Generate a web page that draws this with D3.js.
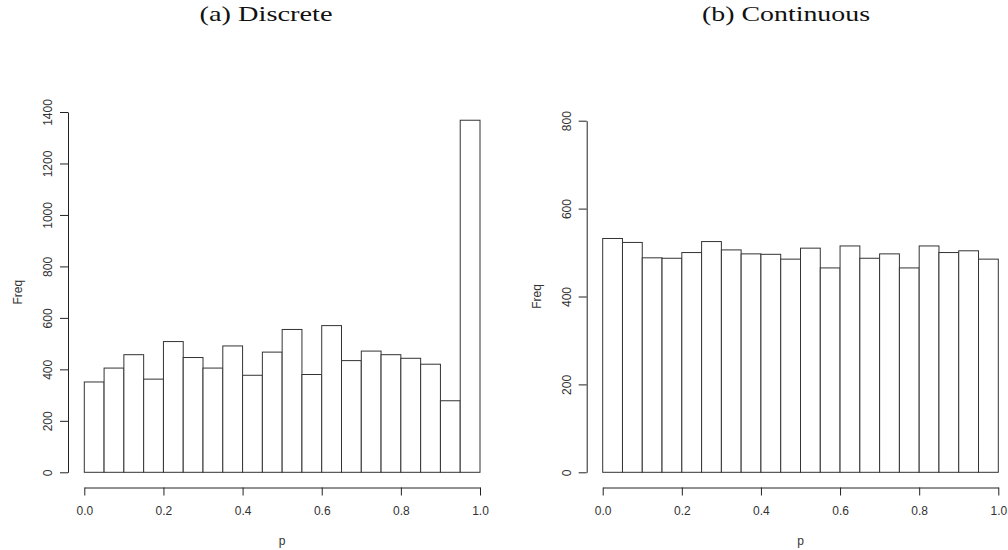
<!DOCTYPE html>
<html>
<head>
<meta charset="utf-8">
<script src="https://cdn.jsdelivr.net/npm/d3@7"></script>
<style>
  html, body { margin: 0; padding: 0; background: #fff; }
  svg { display: block; }
</style>
</head>
<body>
<svg id="chart" width="1008" height="550"></svg>
<script>
// ---- data ----
const binEdges = [0,0.05,0.1,0.15,0.2,0.25,0.3,0.35,0.4,0.45,0.5,0.55,0.6,0.65,0.7,0.75,0.8,0.85,0.9,0.95,1.0];
const discreteFreq = [351,405,457,362,508,446,405,491,377,467,555,380,570,434,471,457,443,420,278,1368];
const continuousFreq = [532,523,488,487,500,525,506,497,496,485,510,465,515,487,497,465,515,500,504,485];
const xTicks = [0,0.2,0.4,0.6,0.8,1.0];
const yTicksA = [0,200,400,600,800,1000,1200,1400];
const yTicksB = [0,200,400,600,800];
const titles = ["(a) Discrete", "(b) Continuous"];
const xLabel = "p";
const yLabel = "Freq";

const svg = d3.select("#chart");

const panels = [
  { title: titles[0], freq: discreteFreq, yTicks: yTicksA, yMax: 1400,
    xRange: [84.3, 480], yRange: [472.3, 112], yAxisX: 68, titleX: 266, titleLen: 133 },
  { title: titles[1], freq: continuousFreq, yTicks: yTicksB, yMax: 800,
    xRange: [602.7, 998.3], yRange: [472.3, 120.7], yAxisX: 586.7, titleX: 786, titleLen: 168 }
];

const axisColor = "#222";
const textColor = "#333";
const xAxisY = 487.5;

panels.forEach(p => {
  const x = d3.scaleLinear().domain([0, 1]).range(p.xRange);
  const y = d3.scaleLinear().domain([0, p.yMax]).range(p.yRange);
  const g = svg.append("g");

  // title
  g.append("text")
    .attr("x", p.titleX).attr("y", 21)
    .attr("text-anchor", "middle")
    .attr("font-family", "'Liberation Serif', 'Times New Roman', serif")
    .attr("font-size", 22)
    .attr("textLength", p.titleLen)
    .attr("lengthAdjust", "spacingAndGlyphs")
    .attr("fill", "#111")
    .text(p.title);

  // bars
  const bins = p.freq.map((v, i) => ({ x0: binEdges[i], x1: binEdges[i + 1], v }));
  g.selectAll("rect.bar").data(bins).enter().append("rect")
    .attr("class", "bar")
    .attr("x", d => x(d.x0))
    .attr("width", d => x(d.x1) - x(d.x0))
    .attr("y", d => y(d.v))
    .attr("height", d => y(0) - y(d.v))
    .attr("fill", "#fff")
    .attr("stroke", "#333")
    .attr("stroke-width", 1);

  // x axis
  const xa = g.append("g").attr("transform", `translate(0,${xAxisY})`)
    .call(d3.axisBottom(x).tickValues(xTicks).tickSize(8).tickSizeOuter(0)
      .tickFormat(d3.format(".1f")));
  xa.select(".domain").attr("stroke", axisColor);
  xa.selectAll(".tick line").attr("stroke", axisColor);
  xa.selectAll(".tick text")
    .attr("y", 27).attr("dy", 0)
    .attr("font-family", "'Liberation Sans', Arial, sans-serif")
    .attr("font-size", 12)
    .attr("fill", textColor);

  // y axis
  const ya = g.append("g").attr("transform", `translate(${p.yAxisX},0)`)
    .call(d3.axisLeft(y).tickValues(p.yTicks).tickSize(8).tickSizeOuter(0)
      .tickFormat(d3.format("d")));
  ya.select(".domain").attr("stroke", axisColor);
  ya.selectAll(".tick line").attr("stroke", axisColor);
  ya.selectAll(".tick text")
    .attr("x", 0).attr("dy", 0).attr("y", 0)
    .attr("text-anchor", "middle")
    .attr("transform", "translate(-16,0) rotate(-90)")
    .attr("font-family", "'Liberation Sans', Arial, sans-serif")
    .attr("font-size", 12)
    .attr("fill", textColor);

  // axis labels
  g.append("text")
    .attr("x", (p.xRange[0] + p.xRange[1]) / 2)
    .attr("y", 545)
    .attr("text-anchor", "middle")
    .attr("font-family", "'Liberation Sans', Arial, sans-serif")
    .attr("font-size", 12)
    .attr("fill", textColor)
    .text(xLabel);

  const yMid = (p.yRange[0] + p.yRange[1]) / 2;
  g.append("text")
    .attr("transform", `translate(${p.yAxisX - 46},${yMid}) rotate(-90)`)
    .attr("text-anchor", "middle")
    .attr("font-family", "'Liberation Sans', Arial, sans-serif")
    .attr("font-size", 12)
    .attr("fill", textColor)
    .text(yLabel);
});
</script>
</body>
</html>
